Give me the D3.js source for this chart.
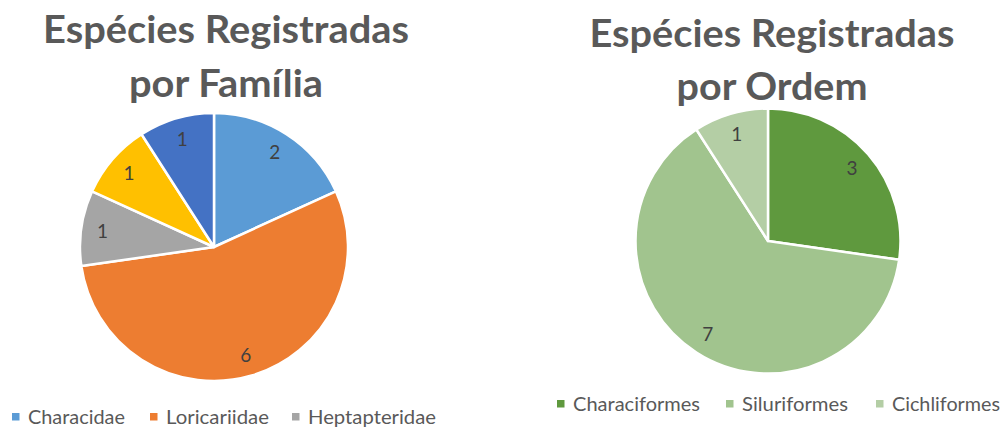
<!DOCTYPE html>
<html>
<head>
<meta charset="utf-8">
<script src="https://cdn.jsdelivr.net/npm/d3@7"></script>
<style>
  body { margin: 0; background: #fff; }
  text { font-family: Lato, "Open Sans", sans-serif; }
</style>
</head>
<body>
<div id="chart"></div>
<script>
// data
var familias = ["Characidae", "Loricariidae", "Heptapteridae", "Família 4", "Família 5"]
var familiaValues = [2, 6, 1, 1, 1]
var familiaColors = ["#5B9BD5", "#ED7D31", "#A5A5A5", "#FFC000", "#4472C4"]

var ordens = ["Characiformes", "Siluriformes", "Cichliformes"]
var ordemValues = [3, 7, 1]
var ordemColors = ["#5F993E", "#A1C48E", "#B4CEA5"]

var width = 1002
var height = 427

var svg = d3.select("#chart")
  .append("svg")
  .attr("width", width)
  .attr("height", height)

function fitText(sel, w) {
  sel.attr("textLength", w).attr("lengthAdjust", "spacingAndGlyphs")
}

function drawPie(opt) {
  var g = svg.append("g")

  // title, two lines
  opt.title.forEach(function(line, i) {
    g.append("text")
      .attr("x", opt.titleX)
      .attr("y", opt.titleY[i])
      .attr("text-anchor", "middle")
      .attr("font-size", 38)
      .attr("font-weight", "bold")
      .attr("fill", "#595959")
      .text(line)
      .call(fitText, opt.titleW[i])
  })

  var pie = d3.pie().sort(null).value(d => d.value)
  var arcs = pie(opt.names.map((n, i) => ({name: n, value: opt.values[i], color: opt.colors[i]})))

  var arc = d3.arc().innerRadius(0).outerRadius(opt.r)
  var labelArc = d3.arc().innerRadius(opt.r * 0.84).outerRadius(opt.r * 0.84)

  var pg = g.append("g").attr("transform", `translate(${opt.cx},${opt.cy})`)

  pg.selectAll("path")
    .data(arcs)
    .join("path")
      .attr("d", arc)
      .attr("fill", d => d.data.color)
      .attr("stroke", "#fff")
      .attr("stroke-width", 2.5)
      .attr("stroke-linejoin", "round")

  pg.selectAll("text")
    .data(arcs)
    .join("text")
      .attr("transform", d => `translate(${labelArc.centroid(d)})`)
      .attr("text-anchor", "middle")
      .attr("dy", "0.36em")
      .attr("font-size", 19)
      .attr("fill", "#404040")
      .text(d => d.data.value)

  // legend (only the entries that fit)
  var lg = g.append("g")
  opt.legend.forEach(function(item) {
    var i = opt.names.indexOf(item.name)
    lg.append("rect")
      .attr("x", item.x)
      .attr("y", opt.legendY - 11)
      .attr("width", 7.5)
      .attr("height", 7.5)
      .attr("fill", opt.colors[i])
    lg.append("text")
      .attr("x", item.x + 16)
      .attr("y", opt.legendY)
      .attr("font-size", 19)
      .attr("fill", "#595959")
      .text(item.name)
      .call(fitText, item.w)
  })
}

drawPie({
  title: ["Espécies Registradas", "por Família"],
  titleX: 226, titleY: [43, 97], titleW: [366, 194],
  cx: 214, cy: 247, r: 134,
  names: familias, values: familiaValues, colors: familiaColors,
  legendY: 424,
  legend: [
    {name: "Characidae", x: 12, w: 97},
    {name: "Loricariidae", x: 150, w: 103},
    {name: "Heptapteridae", x: 292, w: 128}
  ]
})

drawPie({
  title: ["Espécies Registradas", "por Ordem"],
  titleX: 772, titleY: [47, 100], titleW: [365, 191],
  cx: 768, cy: 241, r: 132.5,
  names: ordens, values: ordemValues, colors: ordemColors,
  legendY: 411,
  legend: [
    {name: "Characiformes", x: 557, w: 127},
    {name: "Siluriformes", x: 726, w: 106},
    {name: "Cichliformes", x: 876, w: 108}
  ]
})
</script>
</body>
</html>
